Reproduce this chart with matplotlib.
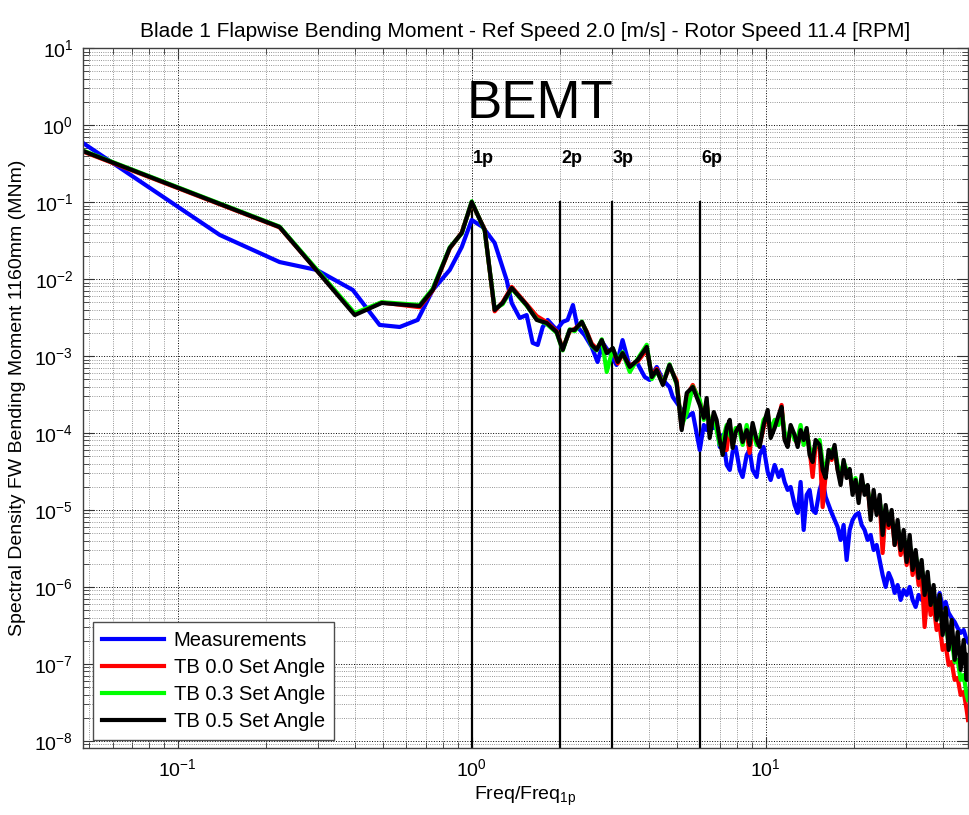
import numpy as np
import matplotlib
matplotlib.use("Agg")
import matplotlib.pyplot as plt
from matplotlib.ticker import LogLocator, NullFormatter, FixedLocator

plt.rcParams['font.family'] = ['Liberation Sans', 'DejaVu Sans']
plt.rcParams['mathtext.fontset'] = 'custom'
plt.rcParams['mathtext.rm'] = 'Liberation Sans'
plt.rcParams['mathtext.it'] = 'Liberation Sans:italic'
plt.rcParams['mathtext.bf'] = 'Liberation Sans:bold'

# ---------------------------------------------------------------- data
# Measured spectrum, low/mid frequency part (Freq/Freq_1p, MNm)
freq_meas_lo = [0.0476, 0.139, 0.222, 0.297, 0.394, 0.486, 0.569, 0.655, 0.737, 0.842,
                0.925, 1.0, 1.09, 1.197, 1.315, 1.368, 1.456, 1.538, 1.612, 1.677,
                1.744, 1.813, 1.945, 2.04, 2.12, 2.21, 2.29, 2.42, 2.56, 2.68,
                2.79, 2.95, 3.11, 3.26, 3.45, 3.64, 3.88, 4.03, 4.26, 4.47,
                4.71, 4.83, 5.10, 5.39, 5.65]
psd_meas_lo = [0.584, 0.0373, 0.0166, 0.0131, 0.0072, 0.00253, 0.00238, 0.00294, 0.0072, 0.0131,
               0.026, 0.0584, 0.0473, 0.0294, 0.0097, 0.00488, 0.00312, 0.0034, 0.00148, 0.00139,
               0.00238, 0.00294, 0.00218, 0.00277, 0.00294, 0.00459, 0.00238, 0.00187, 0.00131, 0.000836,
               0.00148, 0.00109, 0.000764, 0.00161, 0.00072, 0.000836, 0.000533, 0.000488, 0.00072, 0.000488,
               0.000395, 0.000294, 0.000218, 0.000161, 0.000182]

# Simulated spectra, low/mid frequency part
freq_sim_lo = [0.0476, 0.222, 0.400, 0.494, 0.665, 0.737, 0.842, 0.925, 1.0, 1.107,
               1.197, 1.274, 1.368, 1.538, 1.664, 1.800, 1.945, 2.04, 2.155, 2.24,
               2.37, 2.46, 2.56, 2.66, 2.77, 2.88, 3.02, 3.14, 3.26, 3.45,
               3.67, 3.94, 4.10, 4.26, 4.47, 4.71, 4.98, 5.18, 5.39, 5.65]
psd_tb00_lo = [0.452, 0.0468, 0.0035, 0.00495, 0.0043, 0.0071, 0.0248, 0.0402, 0.098, 0.0440,
               0.0038, 0.0050, 0.0079, 0.0047, 0.0033, 0.00275, 0.0021, 0.00125, 0.0021, 0.00225,
               0.0027, 0.0021, 0.00145, 0.00125, 0.00155, 0.00112, 0.00122, 0.00080, 0.00105, 0.00075,
               0.00085, 0.00120, 0.00056, 0.00068, 0.00045, 0.00072, 0.00048, 0.000115, 0.00030, 0.00042]
psd_tb03_lo = [0.465, 0.0480, 0.0036, 0.0050, 0.0046, 0.0075, 0.0258, 0.0390, 0.102, 0.0425,
               0.0041, 0.0047, 0.0075, 0.0045, 0.0030, 0.0026, 0.0020, 0.00118, 0.00222, 0.0021,
               0.0028, 0.0020, 0.00135, 0.00118, 0.00165, 0.00062, 0.00125, 0.00088, 0.00112, 0.00062,
               0.00092, 0.00140, 0.00050, 0.00064, 0.00044, 0.00078, 0.00043, 0.000125, 0.00018, 0.00040]
psd_tb05_lo = [0.459, 0.0473, 0.0034, 0.00488, 0.00446, 0.0072, 0.0253, 0.0396, 0.100, 0.0433,
               0.00396, 0.00488, 0.00764, 0.00459, 0.00294, 0.00268, 0.00205, 0.0012, 0.00218, 0.00218,
               0.00277, 0.00205, 0.00139, 0.0012, 0.00161, 0.00109, 0.00127, 0.000836, 0.00109, 0.00072,
               0.000887, 0.00131, 0.000533, 0.000658, 0.00042, 0.000764, 0.000446, 0.000109, 0.000331, 0.000395]

# High frequency part, common frequency points for all four spectra
freq_hi = [5.97, 6.16, 6.30, 6.45, 6.66, 6.81, 6.98, 7.14, 7.37, 7.55,
           7.72, 7.91, 8.16, 8.35, 8.62, 8.82, 9.03, 9.32, 9.54, 9.84,
           10.16, 10.40, 10.73, 11.07, 11.33, 11.60, 11.88, 12.16, 12.55, 12.85,
           13.15, 13.47, 13.79, 14.11, 14.45, 14.79, 15.26, 15.63, 16.00, 16.38,
           16.77, 17.16, 17.57, 17.99, 18.42, 18.86, 19.31, 19.76, 20.23, 20.72,
           21.21, 21.71, 22.23, 22.76, 23.30, 23.86, 24.42, 25.00, 25.60, 26.21,
           26.83, 27.47, 28.12, 28.79, 29.48, 30.18, 30.90, 31.62, 32.38, 33.15,
           33.94, 34.74, 35.57, 36.42, 37.28, 38.17, 39.08, 40.01, 40.96, 41.94,
           42.94, 43.96, 45.00, 46.07, 47.17, 48.29, 48.80]
psd_meas_hi = [6.02e-5, 1.27e-4, 1.09e-4, 1.48e-4, 1.16e-4, 1.35e-4, 6.58e-5, 9.42e-5, 3.84e-5, 3.31e-5,
               5.67e-5, 6.58e-5, 3.31e-5, 2.68e-5, 5.18e-5, 6.02e-5, 3.31e-5, 2.68e-5, 5.18e-5, 6.58e-5,
               3.12e-5, 2.45e-5, 3.84e-5, 2.68e-5, 3.31e-5, 2.31e-5, 1.82e-5, 1.99e-5, 1.16e-5, 9.14e-6,
               2.31e-5, 5.50e-6, 1.57e-5, 1.82e-5, 1.00e-5, 9.14e-6, 1.82e-5, 2.45e-5, 1.48e-5, 1.16e-5,
               9.14e-6, 7.42e-6, 6.02e-6, 4.08e-6, 6.39e-6, 2.24e-6, 5.50e-6, 7.42e-6, 8.61e-6, 9.14e-6,
               6.39e-6, 5.50e-6, 4.08e-6, 4.74e-6, 3.02e-6, 3.51e-6, 2.24e-6, 1.43e-6, 1.00e-6, 1.52e-6,
               1.23e-6, 8.36e-7, 1.06e-6, 6.78e-7, 9.14e-7, 7.87e-7, 1.00e-6, 6.78e-7, 5.50e-7, 7.87e-7,
               6.78e-7, 9.14e-7, 6.78e-7, 5.50e-7, 7.20e-7, 6.20e-7, 8.36e-7, 5.34e-7, 6.39e-7, 4.60e-7,
               3.96e-7, 3.51e-7, 2.93e-7, 2.53e-7, 2.76e-7, 2.05e-7, 1.93e-7]
psd_tb00_hi = [2.53e-4, 1.71e-4, 2.53e-4, 1.09e-4, 1.57e-4, 1.27e-4, 8.61e-5, 6.02e-5, 6.02e-5, 1.27e-4,
               6.99e-5, 1.09e-4, 1.16e-4, 8.11e-5, 1.03e-4, 5.50e-5, 1.16e-4, 7.64e-5, 6.99e-5, 1.16e-4,
               1.87e-4, 9.42e-5, 1.27e-4, 1.57e-4, 2.31e-4, 8.61e-5, 6.99e-5, 1.09e-4, 8.87e-5, 6.99e-5,
               1.03e-4, 7.64e-5, 1.09e-4, 6.02e-5, 2.68e-5, 6.99e-5, 6.39e-5, 1.09e-5, 2.85e-5, 5.18e-5,
               4.46e-5, 6.02e-5, 3.41e-5, 2.45e-5, 3.84e-5, 2.85e-5, 3.12e-5, 1.82e-5, 2.31e-5, 1.43e-5,
               2.45e-5, 1.71e-5, 1.93e-5, 8.61e-6, 1.57e-5, 9.42e-6, 1.35e-5, 2.76e-6, 1.00e-5, 5.84e-6,
               8.61e-6, 3.51e-6, 5.50e-6, 2.60e-6, 4.08e-6, 1.93e-6, 3.21e-6, 1.43e-6, 2.24e-6, 1.06e-6,
               1.43e-6, 3.02e-7, 9.14e-7, 4.33e-7, 5.84e-7, 2.76e-7, 3.21e-7, 1.52e-7, 1.76e-7, 9.71e-8,
               1.06e-7, 6.20e-8, 6.58e-8, 3.96e-8, 4.33e-8, 2.53e-8, 1.87e-8]
psd_tb03_hi = [2.68e-4, 1.48e-4, 2.31e-4, 1.27e-4, 1.71e-4, 1.09e-4, 6.99e-5, 8.11e-5, 1.27e-4, 9.42e-5,
               8.11e-5, 1.16e-4, 1.03e-4, 6.99e-5, 1.27e-4, 8.11e-5, 1.09e-4, 6.99e-5, 8.11e-5, 1.48e-4,
               1.71e-4, 1.09e-4, 1.48e-4, 1.27e-4, 1.99e-4, 1.03e-4, 8.11e-5, 1.16e-4, 8.11e-5, 8.61e-5,
               1.27e-4, 6.99e-5, 1.03e-4, 6.39e-5, 5.18e-5, 6.99e-5, 8.11e-5, 4.20e-5, 3.31e-5, 5.18e-5,
               6.02e-5, 6.39e-5, 3.84e-5, 2.85e-5, 4.20e-5, 3.31e-5, 3.12e-5, 2.11e-5, 2.60e-5, 1.71e-5,
               2.31e-5, 1.99e-5, 1.82e-5, 1.16e-5, 1.35e-5, 1.16e-5, 1.27e-5, 8.61e-6, 1.00e-5, 7.87e-6,
               7.42e-6, 5.50e-6, 5.84e-6, 4.08e-6, 4.33e-6, 3.21e-6, 3.51e-6, 2.38e-6, 2.60e-6, 1.66e-6,
               1.76e-6, 1.06e-6, 1.23e-6, 7.20e-7, 7.87e-7, 4.74e-7, 5.34e-7, 2.93e-7, 3.51e-7, 1.76e-7,
               2.05e-7, 1.06e-7, 1.13e-7, 6.20e-8, 7.20e-8, 3.96e-8, 3.41e-8]
psd_tb05_hi = [2.31e-4, 1.57e-4, 2.85e-4, 8.61e-5, 1.87e-4, 1.48e-4, 8.11e-5, 5.18e-5, 1.16e-4, 1.48e-4,
               6.39e-5, 1.03e-4, 1.27e-4, 7.64e-5, 1.09e-4, 6.99e-5, 1.35e-4, 8.11e-5, 6.58e-5, 1.27e-4,
               1.99e-4, 8.61e-5, 1.16e-4, 1.71e-4, 2.18e-4, 8.11e-5, 6.58e-5, 1.27e-4, 9.42e-5, 6.58e-5,
               1.09e-4, 8.11e-5, 1.16e-4, 5.18e-5, 4.20e-5, 8.11e-5, 6.99e-5, 3.31e-5, 2.60e-5, 6.02e-5,
               4.74e-5, 6.99e-5, 3.31e-5, 2.11e-5, 4.46e-5, 2.60e-5, 3.41e-5, 1.57e-5, 2.45e-5, 1.23e-5,
               2.85e-5, 1.57e-5, 2.11e-5, 7.42e-6, 1.82e-5, 8.61e-6, 1.57e-5, 4.74e-6, 1.16e-5, 6.39e-6,
               1.00e-5, 3.51e-6, 7.42e-6, 3.02e-6, 5.50e-6, 2.11e-6, 4.74e-6, 1.66e-6, 3.02e-6, 1.31e-6,
               2.24e-6, 7.87e-7, 1.57e-6, 5.84e-7, 1.06e-6, 3.73e-7, 7.87e-7, 2.38e-7, 5.34e-7, 1.52e-7,
               3.73e-7, 1.13e-7, 2.60e-7, 8.36e-8, 2.05e-7, 6.20e-8, 1.31e-7]

series_labels = ['Measurements', 'TB 0.0 Set Angle', 'TB 0.3 Set Angle', 'TB 0.5 Set Angle']
series_colors = ['#0000ff', '#ff0000', '#00ff00', '#000000']

harmonics = [1, 2, 3, 6]
harmonic_top = 0.1

x_limits = (0.0476, 48.8)
y_limits = (8.1e-9, 10.0)
x_decades = [0.1, 1.0, 10.0]
y_decades = [1e-8, 1e-7, 1e-6, 1e-5, 1e-4, 1e-3, 1e-2, 1e-1, 1e0, 1e1]

# ---------------------------------------------------------------- figure
fig = plt.figure(figsize=(9.69, 8.15), dpi=100)
ax = fig.add_axes([83 / 969, 67 / 815, 885 / 969, 700 / 815])
ax.set_xscale('log')
ax.set_yscale('log')

# rotor harmonics
for n in harmonics:
    ax.plot([n, n], [y_limits[0], harmonic_top], color='k', lw=1.6, zorder=1.8)
    ax.text(n * 1.006, 0.32, f'{n}p', fontsize=13, fontweight='bold',
            ha='left', va='baseline', zorder=4)

xs = [freq_meas_lo + freq_hi, freq_sim_lo + freq_hi,
      freq_sim_lo + freq_hi, freq_sim_lo + freq_hi]
ys = [psd_meas_lo + psd_meas_hi, psd_tb00_lo + psd_tb00_hi,
      psd_tb03_lo + psd_tb03_hi, psd_tb05_lo + psd_tb05_hi]
for x, y, c, lab in zip(xs, ys, series_colors, series_labels):
    ax.plot(x, y, color=c, lw=3.0, label=lab, zorder=2)

ax.set_xlim(*x_limits)
ax.set_ylim(*y_limits)

ax.xaxis.set_major_locator(FixedLocator(x_decades))
ax.yaxis.set_major_locator(FixedLocator(y_decades))
ax.xaxis.set_minor_locator(LogLocator(base=10, subs=np.arange(2, 10), numticks=100))
ax.yaxis.set_minor_locator(LogLocator(base=10, subs=np.arange(2, 10), numticks=100))
ax.xaxis.set_minor_formatter(NullFormatter())
ax.yaxis.set_minor_formatter(NullFormatter())

ax.tick_params(which='both', direction='in', top=True, right=True, color='0.2')
ax.tick_params(which='major', length=8, width=0.8, labelsize=14, pad=7)
ax.tick_params(which='minor', length=4, width=0.6)

ax.set_axisbelow(True)
ax.grid(True, which='major', linestyle=':', color='k', linewidth=0.7)
ax.grid(True, which='minor', linestyle=':', color='0.45', linewidth=0.6)
for s in ax.spines.values():
    s.set_color('0.25')
    s.set_linewidth(1.0)

ax.set_title('Blade 1 Flapwise Bending Moment - Ref Speed 2.0 [m/s] - Rotor Speed 11.4 [RPM]',
             fontsize=15, pad=8)
ax.set_xlabel('Freq/Freq$_{\\mathregular{1p}}$', fontsize=14, labelpad=4)
ax.set_ylabel('Spectral Density FW Bending Moment 1160mm (MNm)', fontsize=14, labelpad=6)

ax.text(0.516, 0.9, 'BEMT', transform=ax.transAxes, fontsize=38,
        ha='center', va='baseline', zorder=4)

leg = ax.legend(loc='lower left', bbox_to_anchor=(0.0113, 0.0114), borderaxespad=0,
                fontsize=14.5, frameon=True, fancybox=False, framealpha=1,
                edgecolor='0.3', handlelength=3.1, handletextpad=0.45,
                labelspacing=0.4, borderpad=0.45)
leg.get_frame().set_linewidth(1.0)
for h in leg.get_lines():
    h.set_linewidth(3)

fig.savefig('out.png', dpi=100)
